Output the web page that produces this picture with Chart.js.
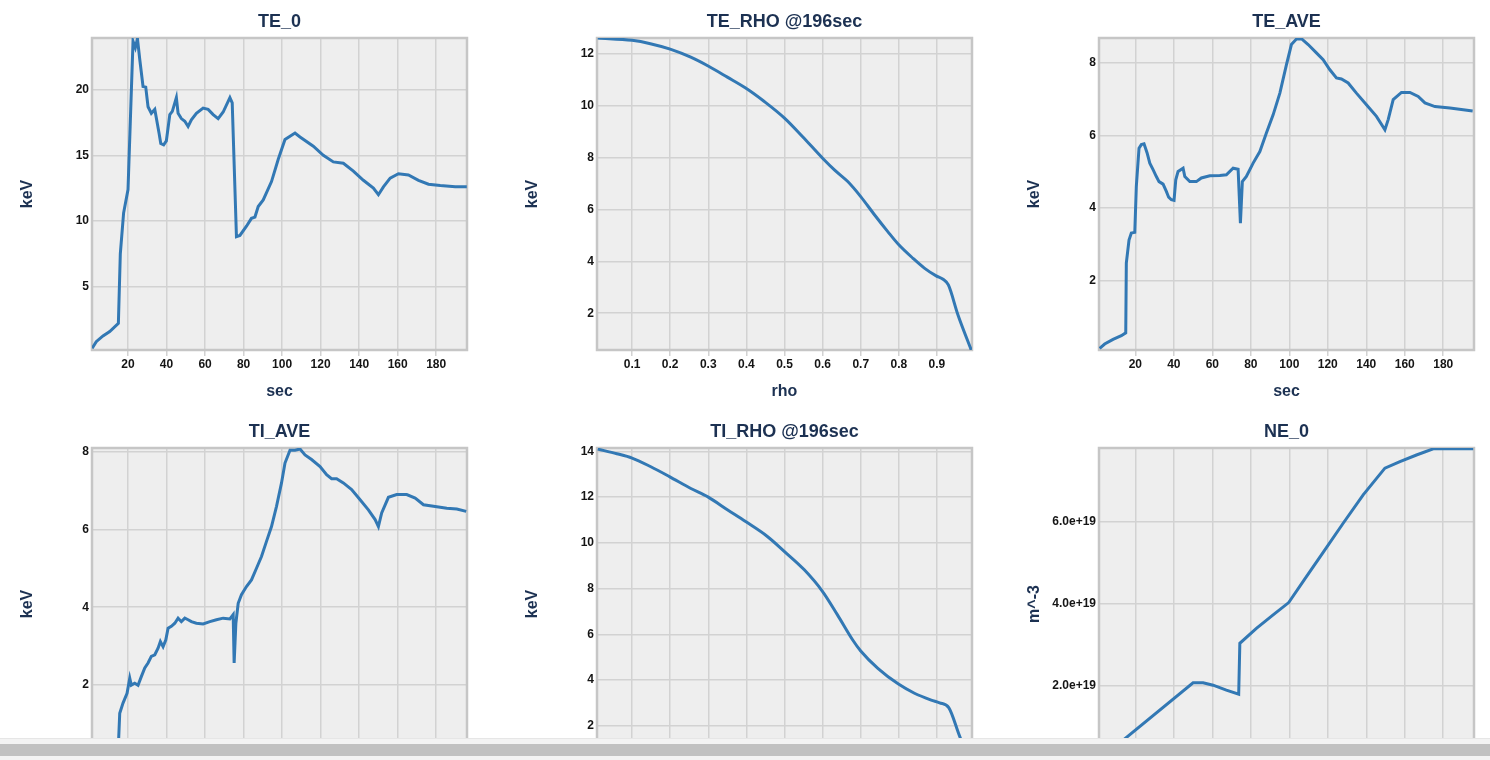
<!DOCTYPE html>
<html>
<head>
<meta charset="utf-8">
<title>Discharge summary</title>
<script src="https://cdn.jsdelivr.net/npm/chart.js@4.4.1/dist/chart.umd.min.js"></script>
<style>
  html, body { margin: 0; padding: 0; background: #fff; overflow: hidden; }
  body { width: 1490px; height: 760px; position: relative; }
  canvas.panel { position: absolute; }
  .hscroll { position: fixed; left: 0; right: 0; bottom: 0; height: 21px; background: #f3f3f3; border-top: 1px solid #e6e6e6; }
  .hscroll .thumb { position: absolute; left: 0; right: 0; top: 5px; height: 12px; background: #c1c1c1; }
</style>
</head>
<body>

<canvas class="panel" id="te0" width="480" height="410" style="left:0px;top:0px"></canvas>
<canvas class="panel" id="teRho" width="480" height="410" style="left:505px;top:0px"></canvas>
<canvas class="panel" id="teAve" width="480" height="410" style="left:1007px;top:0px"></canvas>
<canvas class="panel" id="tiAve" width="480" height="410" style="left:0px;top:410px"></canvas>
<canvas class="panel" id="tiRho" width="480" height="410" style="left:505px;top:410px"></canvas>
<canvas class="panel" id="ne0" width="480" height="410" style="left:1007px;top:410px"></canvas>

<div class="hscroll"><div class="thumb"></div></div>

<script>
// ---- data ----
const secTicks = [20, 40, 60, 80, 100, 120, 140, 160, 180];
const rhoTicks = [0.1, 0.2, 0.3, 0.4, 0.5, 0.6, 0.7, 0.8, 0.9];

// central electron temperature
const te0Sec = [1.4, 3.5, 7, 10.5, 15, 16, 17.7, 20, 22.6, 23.8, 24.9, 26.1, 27.8, 29.2, 30.4, 32.1, 33.9, 36.1, 37, 38.5,
    39.9, 41.7, 43, 45.1, 46, 47.7, 49.5, 51.2, 52.9, 55.5, 59, 61.6, 64.2, 66.8, 69.4, 72.9, 74.1, 76.3, 78.1, 81.5,
    84.1, 85.9, 87.6, 90.2, 94.5, 98, 101.5, 106.7, 109.3, 116.2, 121.4, 126.6, 131.8, 137, 142.2, 147.4, 150, 152.6,
    156.1, 160.4, 165.6, 170.8, 176, 182.1, 189.9, 195.9];
const te0 = [0.3, 0.8, 1.24, 1.57, 2.2, 7.5, 10.6, 12.4, 23.7, 23.2, 23.9, 22.3, 20.25, 20.2, 18.7, 18.2, 18.5, 16.7, 15.9, 15.8,
    16.1, 18.1, 18.35, 19.4, 18.2, 17.8, 17.6, 17.2, 17.7, 18.2, 18.6, 18.5, 18.1, 17.8, 18.3, 19.4, 19.0, 8.8, 8.9, 9.6,
    10.2, 10.3, 11.1, 11.6, 13.0, 14.7, 16.2, 16.7, 16.4, 15.7, 15.0, 14.5, 14.4, 13.8, 13.1, 12.5, 12.0, 12.6,
    13.26, 13.6, 13.5, 13.1, 12.8, 12.7, 12.6, 12.6];
const te0Ticks = [5, 10, 15, 20];

// electron temperature profile at 196 s
const teRho = [0.01, 0.1, 0.148, 0.2, 0.254, 0.302, 0.35, 0.398, 0.447, 0.5, 0.547, 0.6, 0.631, 0.666, 0.7, 0.736,
    0.771, 0.8, 0.837, 0.867, 0.898, 0.916, 0.93, 0.955, 0.99];
const teRhoKev = [12.62, 12.53, 12.4, 12.19, 11.88, 11.52, 11.11, 10.69, 10.17, 9.53, 8.82, 7.98, 7.53, 7.08, 6.5, 5.8,
    5.15, 4.64, 4.12, 3.74, 3.44, 3.31, 3.09, 1.94, 0.58];
const teRhoTicks = [2, 4, 6, 8, 10, 12];

// volume averaged electron temperature
const teAveSec = [1.45, 4.05, 8.4, 12.7, 15, 15.3, 16.7, 17.9, 19.7, 20.5, 21.9, 23.1, 24.5, 26.1, 27.5, 29.2, 30.9,
    32.3, 34.4, 36.1, 37.3, 38.7, 40.1, 41, 42.2, 44.8, 45.7, 48.3, 51.7, 54.3, 58.7, 63.9, 67.3, 70.8, 73.4, 74.6,
    75.6, 77.7, 81.2, 84.7, 88.1, 91.6, 95.1, 98.5, 101.1, 103.7, 106.3, 109.8, 114.1, 117.6, 121, 124.5, 127.1,
    130.6, 134.9, 140.1, 145.3, 149.7, 151.4, 154, 158.3, 162.7, 167, 170.5, 175.7, 183.5, 190.4, 195.3];
const teAve = [0.13, 0.25, 0.38, 0.48, 0.56, 2.48, 3.12, 3.31, 3.33, 4.6, 5.65, 5.75, 5.77, 5.52, 5.24, 5.06, 4.87,
    4.73, 4.66, 4.46, 4.3, 4.23, 4.21, 4.78, 5.01, 5.1, 4.87, 4.73, 4.73, 4.83, 4.89, 4.9, 4.92, 5.1, 5.07, 3.58,
    4.73, 4.87, 5.24, 5.56, 6.07, 6.57, 7.17, 7.95, 8.51, 8.66, 8.67, 8.51, 8.28, 8.09, 7.82, 7.59, 7.56,
    7.45, 7.17, 6.85, 6.53, 6.16, 6.44, 6.99, 7.19, 7.19, 7.08, 6.9, 6.8, 6.76, 6.71, 6.68];
const teAveTicks = [2, 4, 6, 8];

// volume averaged ion temperature
const tiAveSec = [1.3, 8, 15, 15.7, 17.4, 19.5, 20.9, 21.7, 23.5, 25.2, 26.9, 28.7, 30.4, 32.1, 33.9, 35.6, 36.8, 38.2,
    39.6, 40.8, 42.5, 44.3, 46, 47.7, 49.5, 51.2, 52.9, 55.5, 59, 62.5, 65.9, 69.4, 72.9, 74.6, 75.1, 76, 77.2, 78.9,
    81.5, 84.1, 86.7, 89.3, 91.9, 94.5, 97.1, 99.7, 101.5, 104.1, 106.7, 109.3, 111.9, 115.3, 119.7, 123.1, 125.7,
    128.3, 131.8, 136.1, 140.5, 144.8, 148.3, 150, 151.7, 155.2, 159.5, 164.7, 169.1, 173.4, 178.6, 185.5, 190.7, 195.6];
const tiAve = [0.08, 0.25, 0.45, 1.28, 1.54, 1.79, 2.18, 2.0, 2.05, 2.0, 2.22, 2.44, 2.57, 2.74, 2.78, 2.95, 3.12, 2.99,
    3.16, 3.46, 3.51, 3.59, 3.72, 3.63, 3.72, 3.68, 3.63, 3.59, 3.57, 3.63, 3.68, 3.72, 3.7, 3.81, 2.57, 3.59, 4.1, 4.32,
    4.53, 4.7, 5.0, 5.3, 5.69, 6.07, 6.59, 7.19, 7.7, 8.03, 8.03, 8.06, 7.91, 7.79, 7.61, 7.4, 7.3,
    7.3, 7.19, 7.02, 6.76, 6.5, 6.25, 6.07, 6.42, 6.82, 6.89, 6.89, 6.8, 6.63, 6.59, 6.54, 6.52, 6.46];
const tiAveTicks = [2, 4, 6, 8];

// ion temperature profile at 196 s
const tiRho = [0.01, 0.06, 0.1, 0.148, 0.198, 0.253, 0.3, 0.35, 0.398, 0.455, 0.5, 0.552, 0.6, 0.639, 0.679, 0.7,
    0.745, 0.799, 0.841, 0.885, 0.907, 0.931, 0.962, 0.99];
const tiRhoKev = [14.1, 13.9, 13.71, 13.34, 12.9, 12.39, 12.0, 11.45, 10.93, 10.28, 9.62, 8.82, 7.87, 6.85, 5.75, 5.27,
    4.51, 3.82, 3.42, 3.12, 3.0, 2.79, 1.44, 0.5];
const tiRhoTicks = [2, 4, 6, 8, 10, 12, 14];

// central electron density
const ne0Sec = [1.3, 50, 55.2, 60.4, 67.3, 73.7, 74.3, 82.9, 91.6, 99.7, 108.9, 117.6, 128, 138.4, 149.7, 157.5,
    166.1, 174.8, 195.6];
const ne0 = [0.21e19, 2.08e19, 2.08e19, 2.02e19, 1.9e19, 1.8e19, 3.04e19, 3.40e19, 3.73e19, 4.03e19, 4.66e19,
    5.25e19, 5.96e19, 6.65e19, 7.30e19, 7.46e19, 7.62e19, 7.77e19, 7.77e19];
const ne0Ticks = [2e19, 4e19, 6e19];

// ---- styling ----
Chart.defaults.font.family = "'Liberation Sans', Arial, sans-serif";
Chart.defaults.color = '#151515';

const LINE_COLOR = '#3278b4';
const NAVY = '#1c3152';
const GRID = '#d2d2d2';

// grey plot background under the grid, and a frame around the plot area
const plotFrame = {
    id: 'plotFrame',
    beforeDraw(chart) {
        const { ctx, chartArea: a } = chart;
        ctx.save();
        ctx.fillStyle = '#eeeeee';
        ctx.fillRect(a.left, a.top, a.right - a.left, a.bottom - a.top);
        ctx.restore();
    },
    beforeDatasetsDraw(chart) {
        const { ctx, chartArea: a } = chart;
        ctx.save();
        ctx.strokeStyle = '#c6c6c6';
        ctx.lineWidth = 2.5;
        ctx.strokeRect(a.left, a.top, a.right - a.left, a.bottom - a.top);
        ctx.restore();
    }
};

function toPoints(xs, ys) {
    return xs.map((x, i) => ({ x: x, y: ys[i] }));
}

function fixedTicks(values) {
    return (scale) => { scale.ticks = values.map(v => ({ value: v })); };
}

function drawPanel(id, p) {
    const ctx = document.getElementById(id).getContext('2d');

    new Chart(ctx, {
        type: 'line',
        data: {
            datasets: [{
                data: toPoints(p.x, p.y),
                borderColor: LINE_COLOR,
                borderWidth: 3,
                pointRadius: 0,
                fill: false,
                tension: 0,
                cubicInterpolationMode: p.smooth ? 'monotone' : 'default'
            }]
        },
        options: {
            responsive: false,
            animation: false,
            devicePixelRatio: 1,
            events: [],
            layout: { padding: { left: 0, right: 13, top: 0, bottom: 0 } },
            plugins: {
                legend: { display: false },
                tooltip: { enabled: false },
                title: {
                    display: true,
                    text: p.title,
                    fullSize: false,
                    color: NAVY,
                    font: { size: 18, weight: 'bold' },
                    padding: { top: 11.5, bottom: 4.9 }
                }
            },
            scales: {
                x: {
                    type: 'linear',
                    min: p.xMin,
                    max: p.xMax,
                    border: { display: false },
                    grid: { color: GRID, lineWidth: 1.5, drawTicks: true, tickLength: 6 },
                    ticks: {
                        padding: 1,
                        maxRotation: 0,
                        autoSkip: false,
                        color: '#151515',
                        font: { size: 12, weight: 'bold' }
                    },
                    afterBuildTicks: fixedTicks(p.xTicks),
                    title: {
                        display: true,
                        text: p.xTitle,
                        color: NAVY,
                        font: { size: 16, weight: 'bold' },
                        padding: { top: 0, bottom: 8.7 }
                    },
                    afterFit: (scale) => { scale.height = 60; }
                },
                y: {
                    type: 'linear',
                    min: p.yMin,
                    max: p.yMax,
                    border: { display: false },
                    grid: { color: GRID, lineWidth: 1.5, drawTicks: false },
                    ticks: {
                        padding: 3,
                        autoSkip: false,
                        color: '#151515',
                        font: { size: 12, weight: 'bold' },
                        callback: p.yFormat || function (value) { return value; }
                    },
                    afterBuildTicks: fixedTicks(p.yTicks),
                    title: {
                        display: true,
                        text: p.yTitle,
                        color: NAVY,
                        font: { size: 16, weight: 'bold' },
                        padding: { top: 18.4, bottom: 0 }
                    },
                    afterFit: (scale) => { scale.width = 92; }
                }
            }
        },
        plugins: [plotFrame]
    });
}

drawPanel('te0', {
    title: 'TE_0', x: te0Sec, y: te0, xTitle: 'sec', yTitle: 'keV',
    xMin: 1.3, xMax: 196, xTicks: secTicks, yMin: 0.17, yMax: 23.94, yTicks: te0Ticks
});
drawPanel('teRho', {
    title: 'TE_RHO @196sec', x: teRho, y: teRhoKev, xTitle: 'rho', yTitle: 'keV', smooth: true,
    xMin: 0.008, xMax: 0.992, xTicks: rhoTicks, yMin: 0.58, yMax: 12.62, yTicks: teRhoTicks
});
drawPanel('teAve', {
    title: 'TE_AVE', x: teAveSec, y: teAve, xTitle: 'sec', yTitle: 'keV',
    xMin: 1.1, xMax: 196, xTicks: secTicks, yMin: 0.086, yMax: 8.69, yTicks: teAveTicks
});
drawPanel('tiAve', {
    title: 'TI_AVE', x: tiAveSec, y: tiAve, xTitle: 'sec', yTitle: 'keV',
    xMin: 1.3, xMax: 196, xTicks: secTicks, yMin: 0.08, yMax: 8.086, yTicks: tiAveTicks
});
drawPanel('tiRho', {
    title: 'TI_RHO @196sec', x: tiRho, y: tiRhoKev, xTitle: 'rho', yTitle: 'keV', smooth: true,
    xMin: 0.008, xMax: 0.992, xTicks: rhoTicks, yMin: 0.5, yMax: 14.15, yTicks: tiRhoTicks
});
drawPanel('ne0', {
    title: 'NE_0', x: ne0Sec, y: ne0, xTitle: 'sec', yTitle: 'm^-3',
    xMin: 1.1, xMax: 196, xTicks: secTicks, yMin: 0.2e19, yMax: 7.79e19, yTicks: ne0Ticks,
    yFormat: (value) => Number(value).toExponential(1)
});
</script>
</body>
</html>
